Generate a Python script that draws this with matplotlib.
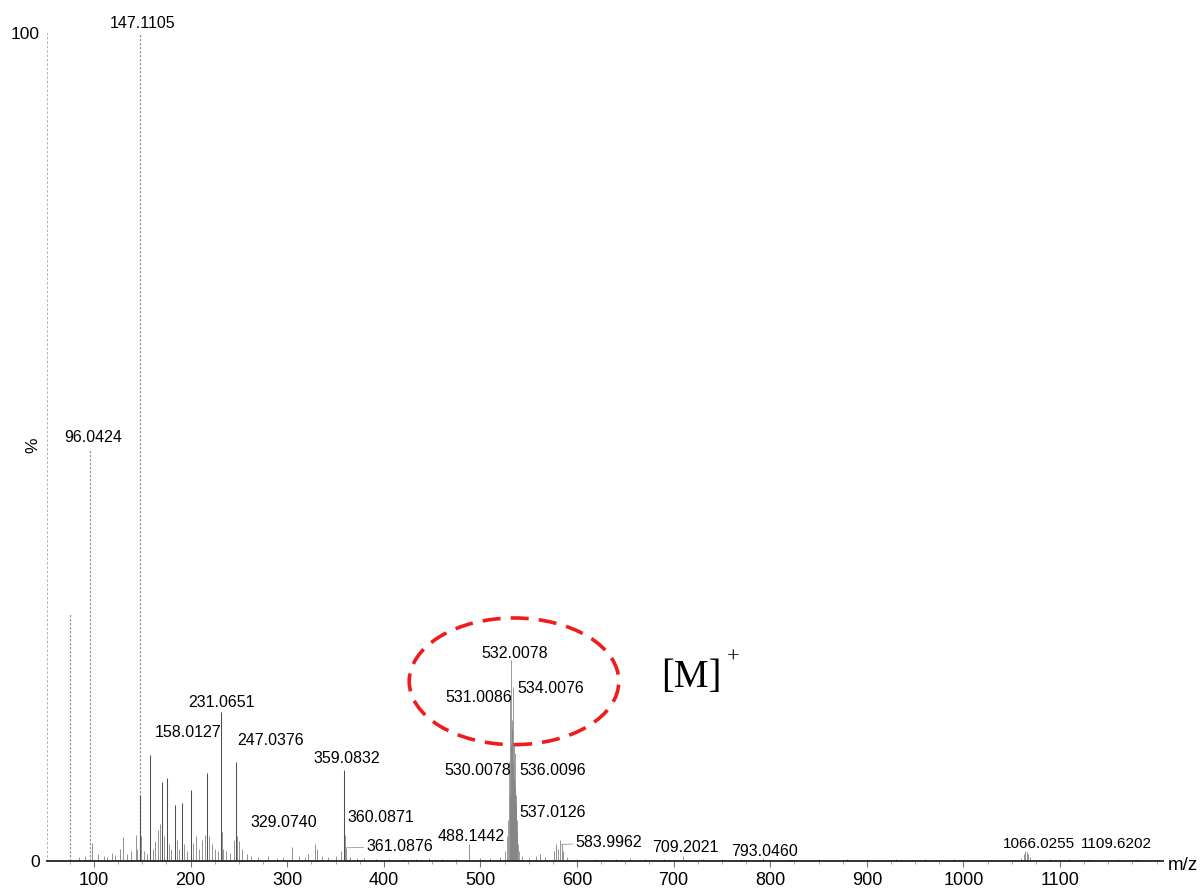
import matplotlib
matplotlib.use("Agg")
import matplotlib.pyplot as plt
from matplotlib.patches import Ellipse
from matplotlib.ticker import MultipleLocator

plt.rcParams["font.family"] = ["Liberation Sans", "DejaVu Sans"]

# centroided spectrum: m/z and relative intensity (%)
mz = [75.2, 84, 91, 96.0424, 98, 104, 110, 113, 118.6, 122, 127, 130, 134, 138,
      143.5, 145, 147.1105, 148.1, 149, 152, 155, 158.0127, 161, 163, 166, 168,
      170.4, 172, 175.6, 178, 180, 183.9, 186, 188, 191, 193, 196, 200.4, 203,
      206, 209, 212, 215, 216.7, 219, 222, 225, 228, 231.0651, 232, 234, 237,
      241, 245, 247.0376, 248, 250, 253, 258, 263, 270, 280, 289, 296, 305, 312,
      318, 322, 329.0740, 331, 336, 342, 350, 356, 359.0832, 360.0871, 361.0876,
      365, 372, 380, 392, 405, 420, 433, 447, 460, 475, 488.1442, 500, 510, 520,
      525, 528, 529, 530.0078, 530.5, 531.0086, 531.5, 532.0078, 532.6, 533,
      533.5, 534.0076, 534.6, 535, 535.5, 536.0096, 536.5, 537.0126, 537.6, 538,
      539, 540, 543, 550, 558, 562, 567, 576, 578, 580, 582, 583.9962, 586, 590,
      600, 620, 640, 655, 670, 690, 709.2021, 730, 750, 770, 793.0460, 820, 850,
      880, 900, 930, 960, 990, 1060, 1063, 1064, 1066.0255, 1067, 1069, 1090,
      1109.6202, 1130, 1160, 1180]
intensity = [30, 0.5, 0.6, 49.6, 2.2, 0.8, 0.6, 0.5, 1.0, 0.7, 1.5, 2.9, 0.8, 1.2,
             3.1, 1.5, 100, 8, 3, 1.2, 0.8, 12.8, 1.5, 2.4, 3.7, 4.5,
             9.5, 3, 10, 2, 1.5, 6.8, 2.5, 1.5, 7, 2, 1.2, 8.6, 2.2,
             3, 1.5, 2.5, 3.2, 10.6, 3, 2, 1.5, 1.2, 18, 3.5, 1.5, 1.2,
             1, 2.5, 12, 3, 2.4, 1.5, 0.8, 0.6, 0.5, 0.6, 0.4, 0.5, 1.7, 0.6,
             0.5, 0.8, 2, 1.5, 0.6, 0.5, 0.6, 1.2, 11, 3.2, 1.6,
             0.5, 0.4, 0.4, 0.3, 0.3, 0.3, 0.3, 0.4, 0.3, 0.3, 2, 0.4, 0.4, 0.5,
             1.2, 3, 5, 12, 8, 20, 14, 24.3, 17, 16,
             12, 21, 14, 10, 9, 13, 8, 7, 5, 3.5,
             2, 1.2, 0.6, 0.4, 0.6, 0.8, 0.5, 1.2, 2, 1.5, 2.5, 2, 1.2, 0.5,
             0.3, 0.3, 0.3, 0.4, 0.3, 0.3, 0.6, 0.3, 0.2, 0.3, 0.4, 0.3, 0.2,
             0.3, 0.2, 0.2, 0.2, 0.2, 0.4, 0.8, 1.2, 1.1, 0.9, 0.5, 0.2,
             0.3, 0.2, 0.2, 0.2]

# labelled peaks and where their text sits (m/z, %)
labels = ["147.1105", "96.0424", "231.0651", "158.0127", "247.0376", "359.0832",
          "329.0740", "360.0871", "361.0876", "488.1442", "532.0078", "531.0086",
          "534.0076", "530.0078", "536.0096", "537.0126", "583.9962", "709.2021",
          "793.0460", "1066.0255", "1109.6202"]
label_pos = [(150.7, 101.1), (99, 51.1), (231.5, 19.2), (197, 15.5), (283, 14.5),
             (362, 12.4), (296.7, 4.7), (397, 5.2), (416.5, 1.7), (490, 2.9),
             (535.8, 25.1), (498.6, 19.8), (573, 20.8), (497.5, 10.9), (575, 10.9),
             (575, 5.8), (633, 2.2), (712, 1.6), (794.6, 1.1), (1078, 2.0),
             (1158, 2.0)]
leader = {"361.0876": (361.0876, 1.6), "583.9962": (583.9962, 2.0)}

fig = plt.figure(figsize=(12.04, 8.93), dpi=100)
ax = fig.add_axes([47 / 1204, 32 / 893, 1116 / 1204, 828 / 893])

for m, h in zip(mz, intensity):
    if h > 25:
        ax.vlines(m, 0, h, color="#9a9a9a", lw=0.9, linestyles=(0, (2, 1.2)))
    elif 525 <= m <= 540:
        ax.vlines(m, 0, h, color="#808080", lw=0.55)
    elif h > 5:
        ax.vlines(m, 0, h, color="#505050", lw=0.75)
    else:
        ax.vlines(m, 0, h, color="#808080", lw=0.6)

for txt, (lx, ly) in zip(labels, label_pos):
    # the two high-mass labels sit close together, so a touch smaller
    size = 11 if float(txt) > 1000 else 11.5
    if txt in leader:
        ax.annotate(txt, xy=leader[txt], xytext=(lx, ly), ha="center", va="center",
                    fontsize=size, annotation_clip=False,
                    arrowprops=dict(arrowstyle="-", color="#999999", lw=0.6,
                                    shrinkA=30, shrinkB=0))
    else:
        ax.text(lx, ly, txt, ha="center", va="center", fontsize=size, clip_on=False)

# molecular ion cluster highlight
ax.add_patch(Ellipse((534.8, 21.7), 217, 15.3, fill=False, edgecolor="#ee1c1c",
                     lw=2.6, linestyle=(0, (5, 2.8)), clip_on=False))
fig.text(691 / 1204, (893 - 678) / 893, "[M]", family="Liberation Serif",
         fontsize=28, ha="center", va="center")
fig.text(733 / 1204, (893 - 658) / 893, "+", family="Liberation Serif",
         fontsize=16, ha="center", va="center")

ax.set_xlim(51.35, 1206.6)
ax.set_ylim(0, 100)
ax.xaxis.set_minor_locator(MultipleLocator(25))
ax.set_xticks(range(100, 1200, 100))
ax.set_yticks([0, 100])
ax.tick_params(axis="x", which="major", length=4, width=0.8, color="#777777",
               labelsize=13, pad=4)
ax.tick_params(axis="x", which="minor", length=2.5, width=0.6, color="#999999")
ax.tick_params(axis="y", length=0, labelsize=12.5, pad=5)

for s in ["top", "right"]:
    ax.spines[s].set_visible(False)
ax.spines["bottom"].set_linewidth(1.3)
ax.spines["bottom"].set_color("#222222")
ax.spines["left"].set_color("#b0b0b0")
ax.spines["left"].set_linewidth(0.7)
ax.spines["left"].set_linestyle((0, (1.5, 3)))

fig.text(33 / 1204, (893 - 445) / 893, "%", rotation=90, fontsize=12.5,
         ha="center", va="center")
fig.text(1183 / 1204, (893 - 865) / 893, "m/z", fontsize=13.5, ha="center", va="center")

fig.savefig("out.png", dpi=100, facecolor="white")
